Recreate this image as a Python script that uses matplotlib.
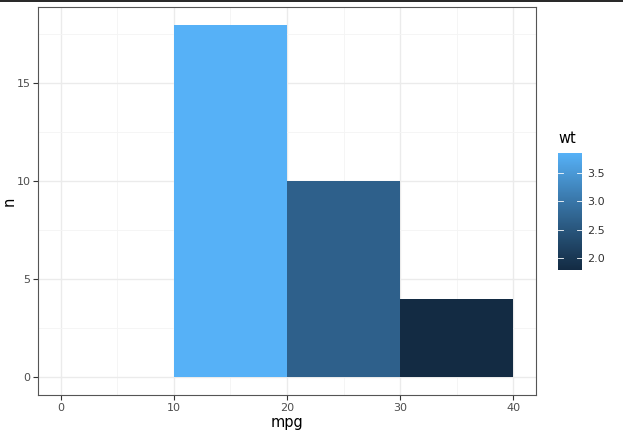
import numpy as np
import matplotlib
matplotlib.use("Agg")
import matplotlib.pyplot as plt
from matplotlib.colors import ListedColormap, Normalize
from matplotlib.lines import Line2D
from matplotlib.colorbar import ColorbarBase

# Data: histogram of mpg (binwidth 10), fill = mean wt per bin
bin_left = [10, 20, 30]
bin_width = 10
counts = [18, 10, 4]
mean_wt = [3.839, 2.669, 1.791]
wt_ticks = [2.0, 2.5, 3.0, 3.5]
x_ticks = [0, 10, 20, 30, 40]
y_ticks = [0, 5, 10, 15]


# ggplot-style gradient (#132B43 -> #56B1F7) interpolated in Lab space
def srgb_to_lab(rgb):
    rgb = np.asarray(rgb, float)
    lin = np.where(rgb <= 0.04045, rgb / 12.92, ((rgb + 0.055) / 1.055) ** 2.4)
    m = np.array([[0.4124, 0.3576, 0.1805],
                  [0.2126, 0.7152, 0.0722],
                  [0.0193, 0.1192, 0.9505]])
    xyz = m @ lin / np.array([0.95047, 1.0, 1.08883])
    f = np.where(xyz > 0.008856, np.cbrt(xyz), 7.787 * xyz + 16 / 116)
    return np.array([116 * f[1] - 16, 500 * (f[0] - f[1]), 200 * (f[1] - f[2])])


def lab_to_srgb(lab):
    L, a, b = lab
    fy = (L + 16) / 116
    fx = fy + a / 500
    fz = fy - b / 200
    f = np.array([fx, fy, fz])
    xyz = np.where(f ** 3 > 0.008856, f ** 3, (f - 16 / 116) / 7.787)
    xyz = xyz * np.array([0.95047, 1.0, 1.08883])
    m = np.array([[3.2406, -1.5372, -0.4986],
                  [-0.9689, 1.8758, 0.0415],
                  [0.0557, -0.2040, 1.0570]])
    lin = m @ xyz
    rgb = np.where(lin <= 0.0031308, 12.92 * lin, 1.055 * np.clip(lin, 0, None) ** (1 / 2.4) - 0.055)
    return np.clip(rgb, 0, 1)


lo = srgb_to_lab(np.array([0x13, 0x2B, 0x43]) / 255)
hi = srgb_to_lab(np.array([0x56, 0xB1, 0xF7]) / 255)
cmap = ListedColormap([lab_to_srgb(lo + t * (hi - lo)) for t in np.linspace(0, 1, 256)])
norm = Normalize(vmin=min(mean_wt), vmax=max(mean_wt))

fig = plt.figure(figsize=(6.23, 4.36), dpi=100)
ax = fig.add_axes([0.061, 0.094, 0.7994, 0.89])

ax.bar(bin_left, counts, width=bin_width, align="edge",
       color=[cmap(norm(v)) for v in mean_wt], zorder=2)

ax.set_xlim(-2, 42)
ax.set_ylim(-0.9, 18.9)
ax.set_xticks(x_ticks)
ax.set_yticks(y_ticks)
ax.set_xticks([5, 15, 25, 35], minor=True)
ax.set_yticks([2.5, 7.5, 12.5, 17.5], minor=True)
ax.grid(True, which="major", color="#EBEBEB", lw=1.0, zorder=0)
ax.grid(True, which="minor", color="#F4F4F4", lw=0.6, zorder=0)
ax.tick_params(which="major", length=3.5, width=0.8, color="#333333",
               labelcolor="#4D4D4D", labelsize=8, pad=2)
ax.tick_params(which="minor", length=0)
for s in ax.spines.values():
    s.set_color("#555555")
    s.set_linewidth(0.8)
ax.set_xlabel("mpg", fontsize=10.5, labelpad=2)
ax.set_ylabel("n", fontsize=10.5, va="center")
ax.yaxis.set_label_coords(-0.058, 0.5)

# colour bar legend
cax = fig.add_axes([0.8957, 0.3807, 0.0385, 0.268])
cb = ColorbarBase(cax, cmap=cmap, norm=norm, orientation="vertical")
cb.outline.set_visible(False)
cb.set_ticks(wt_ticks)
cb.set_ticklabels([f"{t:.1f}" for t in wt_ticks])
cax.tick_params(length=0, labelsize=8, labelcolor="#333333", pad=4)
for t in wt_ticks:
    cax.plot([0, 0.2], [t, t], color="white", lw=0.6, transform=cax.get_yaxis_transform())
    cax.plot([0.8, 1.0], [t, t], color="white", lw=0.6, transform=cax.get_yaxis_transform())
fig.text(0.8957, 0.665, "wt", fontsize=10.5, ha="left", va="bottom")

# thin dark rule along the top edge
fig.add_artist(Line2D([0, 1], [0.998, 0.998], transform=fig.transFigure, color="black", lw=1.2))

fig.savefig("out.png", dpi=100)
